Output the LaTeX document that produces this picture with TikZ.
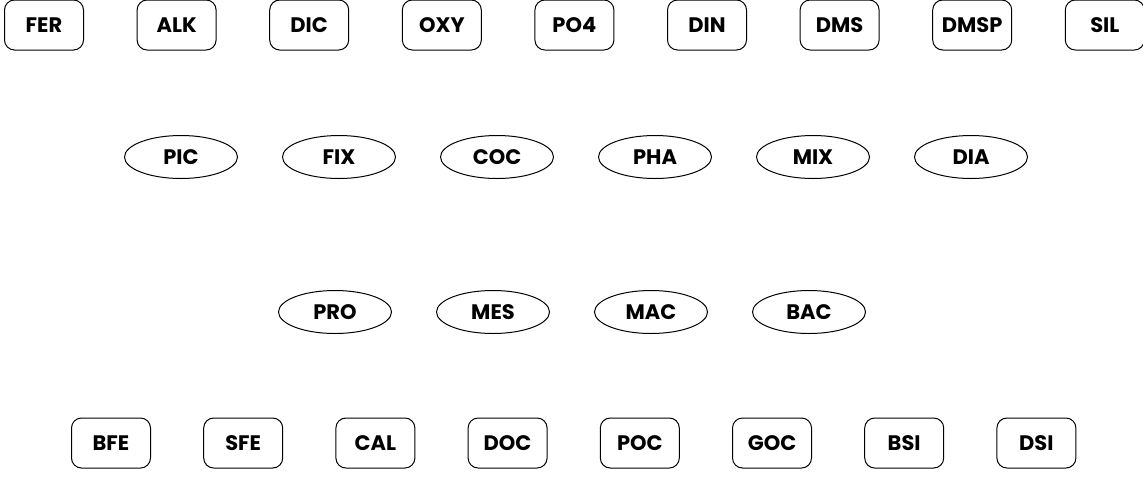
\documentclass[tikz,border=0pt]{standalone}
\usepackage{fontspec}
\setmainfont{Poppins}
\usetikzlibrary{positioning, shapes.geometric}

\begin{document}
\begin{tikzpicture}[
    x=0.5pt, y=-0.5pt,
    varbox/.style={rectangle, rounded corners=5pt, draw=black, line width=0.5pt, minimum width=39.5pt, minimum height=25pt, inner sep=1pt, font=\bfseries\fontsize{10.5}{12}\selectfont},
    procnode/.style={ellipse, draw=black, line width=0.5pt, minimum width=56.5pt, minimum height=21.5pt, inner sep=0pt, font=\bfseries\fontsize{10.5}{12}\selectfont},
]
\useasboundingbox (0,0) rectangle (1143,477);
% state variables, top row
\node[varbox](FER) at (44,25){FER};
\node[varbox](ALK)[right = 26.3pt of FER]{ALK};
\node[varbox](DIC)[right = 26.3pt of ALK]{DIC};
\node[varbox](OXY)[right = 26.3pt of DIC]{OXY};
\node[varbox](PO4)[right = 26.3pt of OXY]{PO4};
\node[varbox](DIN)[right = 26.3pt of PO4]{DIN};
\node[varbox](DMS)[right = 26.3pt of DIN]{DMS};
\node[varbox](DMSP)[right = 26.3pt of DMS]{DMSP};
\node[varbox](SIL)[right = 26.3pt of DMSP]{SIL};
% phytoplankton
\node[procnode](PIC) at (181,157){PIC};
\node[procnode](FIX)[right = 22pt of PIC]{FIX};
\node[procnode](COC)[right = 22pt of FIX]{COC};
\node[procnode](PHA)[right = 22pt of COC]{PHA};
\node[procnode](MIX)[right = 22pt of PHA]{MIX};
\node[procnode](DIA)[right = 22pt of MIX]{DIA};
% zooplankton and bacteria
\node[procnode](PRO) at (335,312){PRO};
\node[procnode](MES)[right = 22pt of PRO]{MES};
\node[procnode](MAC)[right = 22pt of MES]{MAC};
\node[procnode](BAC)[right = 22pt of MAC]{BAC};
% detritus, bottom row
\node[varbox](BFE) at (111,443){BFE};
\node[varbox](SFE)[right = 26.1pt of BFE]{SFE};
\node[varbox](CAL)[right = 26.1pt of SFE]{CAL};
\node[varbox](DOC)[right = 26.1pt of CAL]{DOC};
\node[varbox](POC)[right = 26.1pt of DOC]{POC};
\node[varbox](GOC)[right = 26.1pt of POC]{GOC};
\node[varbox](BSI)[right = 26.1pt of GOC]{BSI};
\node[varbox](DSI)[right = 26.1pt of BSI]{DSI};
\end{tikzpicture}
\end{document}
